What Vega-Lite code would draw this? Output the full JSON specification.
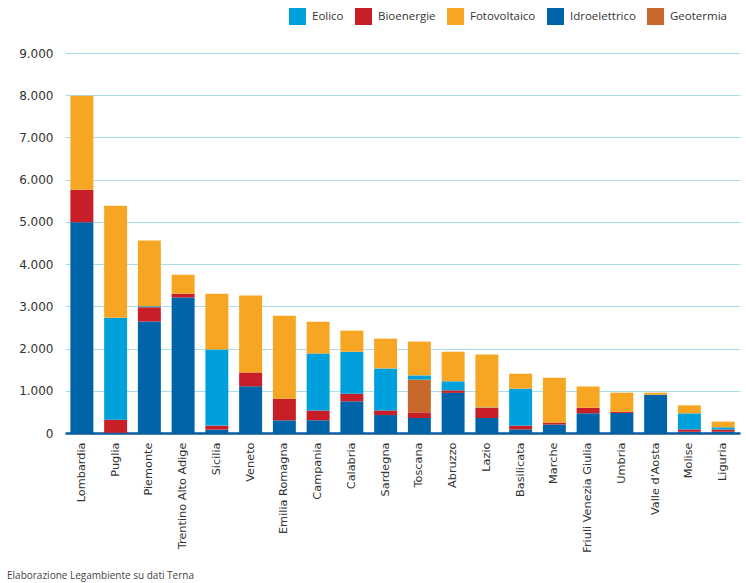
{
  "$schema": "https://vega.github.io/schema/vega-lite/v6.json",
  "width": 675,
  "height": 380,
  "autosize": {"type": "none"},
  "padding": {"left": 65, "top": 53, "right": 6, "bottom": 150},
  "background": "white",
  "title": {
    "text": "Elaborazione Legambiente su dati Terna",
    "orient": "bottom",
    "anchor": "start",
    "frame": "group",
    "dx": -58,
    "offset": 19,
    "fontSize": 10,
    "fontWeight": "normal",
    "font": "Open Sans",
    "color": "#444444"
  },
  "data": {
    "values": [
      {"regione": "Lombardia", "Idroelettrico": 4990, "Bioenergie": 770, "Geotermia": 0, "Eolico": 0, "Fotovoltaico": 2230},
      {"regione": "Puglia", "Idroelettrico": 5, "Bioenergie": 310, "Geotermia": 0, "Eolico": 2415, "Fotovoltaico": 2655},
      {"regione": "Piemonte", "Idroelettrico": 2640, "Bioenergie": 340, "Geotermia": 0, "Eolico": 20, "Fotovoltaico": 1560},
      {"regione": "Trentino Alto Adige", "Idroelettrico": 3210, "Bioenergie": 90, "Geotermia": 0, "Eolico": 0, "Fotovoltaico": 450},
      {"regione": "Sicilia", "Idroelettrico": 80, "Bioenergie": 95, "Geotermia": 0, "Eolico": 1800, "Fotovoltaico": 1325},
      {"regione": "Veneto", "Idroelettrico": 1105, "Bioenergie": 330, "Geotermia": 0, "Eolico": 0, "Fotovoltaico": 1820},
      {"regione": "Emilia Romagna", "Idroelettrico": 300, "Bioenergie": 510, "Geotermia": 0, "Eolico": 0, "Fotovoltaico": 1965},
      {"regione": "Campania", "Idroelettrico": 300, "Bioenergie": 235, "Geotermia": 0, "Eolico": 1350, "Fotovoltaico": 750},
      {"regione": "Calabria", "Idroelettrico": 750, "Bioenergie": 180, "Geotermia": 0, "Eolico": 995, "Fotovoltaico": 500},
      {"regione": "Sardegna", "Idroelettrico": 425, "Bioenergie": 110, "Geotermia": 0, "Eolico": 995, "Fotovoltaico": 705},
      {"regione": "Toscana", "Idroelettrico": 355, "Bioenergie": 135, "Geotermia": 775, "Eolico": 100, "Fotovoltaico": 800},
      {"regione": "Abruzzo", "Idroelettrico": 950, "Bioenergie": 60, "Geotermia": 0, "Eolico": 215, "Fotovoltaico": 700},
      {"regione": "Lazio", "Idroelettrico": 355, "Bioenergie": 240, "Geotermia": 0, "Eolico": 10, "Fotovoltaico": 1255},
      {"regione": "Basilicata", "Idroelettrico": 85, "Bioenergie": 90, "Geotermia": 0, "Eolico": 875, "Fotovoltaico": 355},
      {"regione": "Marche", "Idroelettrico": 200, "Bioenergie": 45, "Geotermia": 0, "Eolico": 0, "Fotovoltaico": 1065},
      {"regione": "Friuli Venezia Giulia", "Idroelettrico": 465, "Bioenergie": 135, "Geotermia": 0, "Eolico": 0, "Fotovoltaico": 500},
      {"regione": "Umbria", "Idroelettrico": 475, "Bioenergie": 25, "Geotermia": 0, "Eolico": 0, "Fotovoltaico": 455},
      {"regione": "Valle d'Aosta", "Idroelettrico": 905, "Bioenergie": 0, "Geotermia": 0, "Eolico": 0, "Fotovoltaico": 50},
      {"regione": "Molise", "Idroelettrico": 30, "Bioenergie": 55, "Geotermia": 0, "Eolico": 380, "Fotovoltaico": 190},
      {"regione": "Liguria", "Idroelettrico": 30, "Bioenergie": 50, "Geotermia": 0, "Eolico": 55, "Fotovoltaico": 135}
    ]
  },
  "transform": [
    {"fold": ["Idroelettrico", "Bioenergie", "Geotermia", "Eolico", "Fotovoltaico"], "as": ["fonte", "mw"]},
    {"calculate": "indexof(['Idroelettrico', 'Bioenergie', 'Geotermia', 'Eolico', 'Fotovoltaico'], datum.fonte)", "as": "ordine"}
  ],
  "mark": {"type": "bar"},
  "encoding": {
    "x": {
      "field": "regione",
      "type": "nominal",
      "sort": null,
      "scale": {"paddingInner": 0.32, "paddingOuter": 0.16},
      "axis": {
        "title": null,
        "labelAngle": 270,
        "labelAlign": "right",
        "labelBaseline": "middle",
        "labelFont": "DejaVu Sans",
        "labelFontSize": 11.3,
        "labelColor": "#333333",
        "labelPadding": 9,
        "ticks": false,
        "domainColor": "#0a5a9c",
        "domainWidth": 2.5
      }
    },
    "y": {
      "field": "mw",
      "type": "quantitative",
      "stack": "zero",
      "scale": {"domain": [0, 9000]},
      "axis": {
        "title": null,
        "values": [0, 1000, 2000, 3000, 4000, 5000, 6000, 7000, 8000, 9000],
        "labelExpr": "replace(format(datum.value, ','), ',', '.')",
        "labelFont": "DejaVu Sans",
        "labelFontSize": 12,
        "labelColor": "#333333",
        "labelPadding": 12,
        "ticks": false,
        "domain": false,
        "gridColor": "#a9dcee",
        "gridWidth": 1
      }
    },
    "color": {
      "field": "fonte",
      "type": "nominal",
      "scale": {
        "domain": ["Eolico", "Bioenergie", "Fotovoltaico", "Idroelettrico", "Geotermia"],
        "range": ["#00a0dc", "#c81e28", "#f6a623", "#0065a8", "#c8692b"]
      },
      "legend": {
        "title": null,
        "orient": "none",
        "direction": "horizontal",
        "legendX": 224,
        "legendY": -45,
        "symbolType": "square",
        "symbolSize": 289,
        "symbolStrokeWidth": 0,
        "symbolOpacity": 1,
        "labelFont": "Open Sans",
        "labelFontSize": 11.5,
        "labelColor": "#333333",
        "labelOffset": 6,
        "columnPadding": 11
      }
    },
    "order": {"field": "ordine", "type": "quantitative"}
  },
  "config": {"view": {"stroke": null}}
}
